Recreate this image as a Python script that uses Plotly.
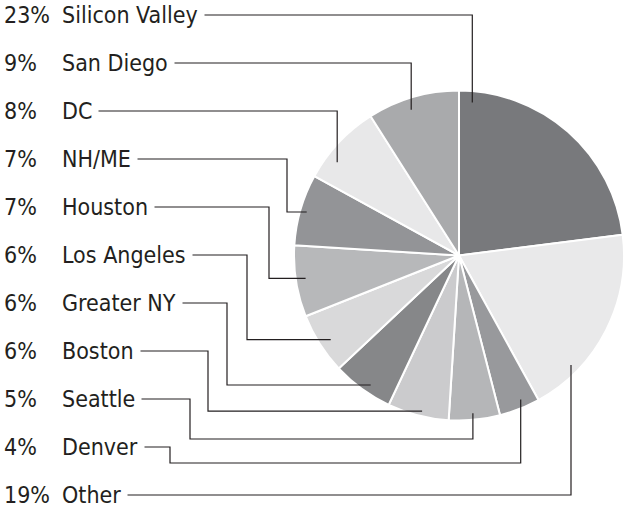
import math
import plotly.graph_objects as go

# ---- data ----
regions = ["Silicon Valley", "Other", "Denver", "Seattle", "Boston", "Greater NY",
           "Los Angeles", "Houston", "NH/ME", "DC", "San Diego"]
shares = [23, 19, 4, 5, 6, 6, 6, 7, 7, 8, 9]
slice_colors = ["#78797c", "#e9e9ea", "#98999c", "#b5b6b8", "#cbcbcd", "#868789",
                "#d9d9da", "#b7b8ba", "#939497", "#e8e8e9", "#a9aaac"]
label_order = ["Silicon Valley", "San Diego", "DC", "NH/ME", "Houston", "Los Angeles",
               "Greater NY", "Boston", "Seattle", "Denver", "Other"]

# ---- layout / styling ----
W, H = 625, 509
CX, CY, R = 459, 255.5, 165          # pie centre and radius in pixels
ROW0, ROW_STEP = 15, 48
PCT_X, NAME_X = 2, 61
FONT = "DejaVu Sans Condensed, Liberation Sans Narrow, Arial Narrow, sans-serif"
FSIZE = 23
INK = "#231f20"
# leader routing: (angle fraction within slice, radius fraction, elbow x, bus y)
routing = {
    "Silicon Valley": (0.06, 0.93, None, None),
    "San Diego":      (0.44, 0.93, None, None),
    "DC":             (0.30, 0.93, None, None),
    "NH/ME":          (0.49, 0.96, 287, None),
    "Houston":        (0.52, 0.94, 269, None),
    "Los Angeles":    (0.46, 0.93, 247, None),
    "Greater NY":     (0.42, 0.95, 227, None),
    "Boston":         (0.45, 0.97, 208, None),
    "Seattle":        (0.52, 0.96, 190, 439),
    "Denver":         (0.39, 0.95, 170, 463),
    "Other":          (0.754, 0.95, None, None),
}

total = sum(shares)
start_angle = {}
acc = 0.0
for r, v in zip(regions, shares):
    start_angle[r] = (acc / total * 360.0, v / total * 360.0)
    acc += v

fig = go.Figure()
fig.add_trace(go.Pie(
    labels=regions, values=shares, sort=False, direction="clockwise", rotation=0,
    marker=dict(colors=slice_colors, line=dict(color="white", width=2)),
    textinfo="none", hoverinfo="skip", showlegend=False,
    domain=dict(x=[(CX - R) / W, (CX + R) / W], y=[(H - CY - R) / H, (H - CY + R) / H]),
))

shapes = []
annotations = []
value_of = dict(zip(regions, shares))
for i, name in enumerate(label_order):
    y_row = ROW0 + ROW_STEP * i
    frac, rf, ex, by = routing[name]
    a0, aw = start_angle[name]
    th = math.radians(a0 + frac * aw)
    ax = CX + rf * R * math.sin(th)
    ay = CY - rf * R * math.cos(th)
    if ex is None:
        path = f"M {NAME_X+5},{y_row} H {ax:.1f} V {ay:.1f}"
    else:
        bus = ay if by is None else by
        path = f"M {NAME_X+5},{y_row} H {ex} V {bus:.1f} H {ax:.1f} V {ay:.1f}"
    shapes.append(dict(type="path", xref="x", yref="y", path=path, layer="above",
                       line=dict(color=INK, width=1.2)))
    annotations.append(dict(x=PCT_X, y=y_row, xref="x", yref="y", text=f"{value_of[name]}%",
                            showarrow=False, xanchor="left", yanchor="middle",
                            font=dict(family=FONT, size=FSIZE, color=INK)))
    annotations.append(dict(x=NAME_X - 6, y=y_row, xref="x", yref="y", text=name,
                            showarrow=False, xanchor="left", yanchor="middle",
                            bgcolor="white", borderpad=6,
                            font=dict(family=FONT, size=FSIZE, color=INK)))

fig.update_layout(
    width=W, height=H, margin=dict(l=0, r=0, t=0, b=0),
    paper_bgcolor="white", plot_bgcolor="white",
    xaxis=dict(range=[0, W], visible=False, fixedrange=True),
    yaxis=dict(range=[H, 0], visible=False, fixedrange=True),
    shapes=shapes, annotations=annotations,
)
fig.write_html("out.html")
